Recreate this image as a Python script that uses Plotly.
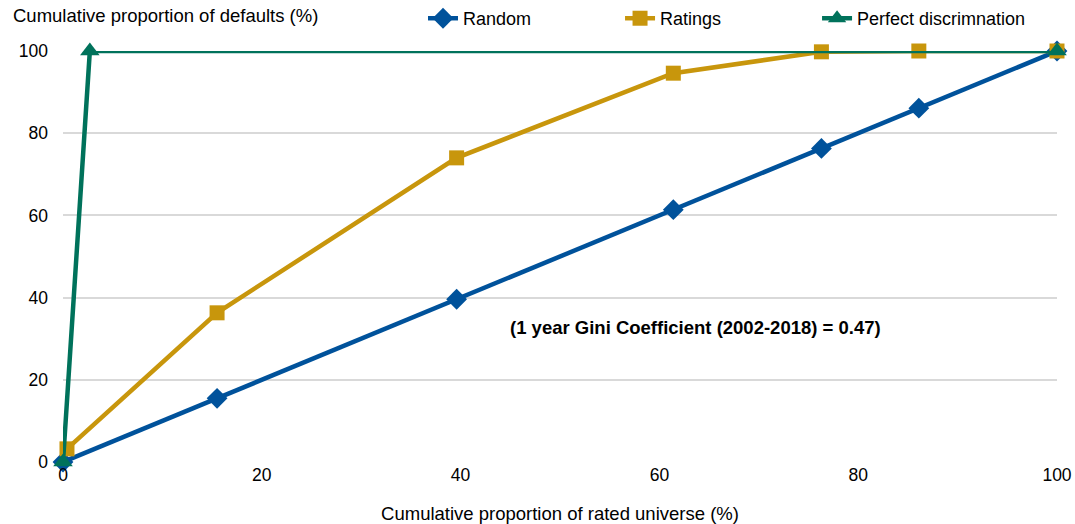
import plotly.graph_objects as go

# Cumulative accuracy profile data (percent)
random_x = [0, 15.5, 39.6, 61.4, 76.3, 86.1, 100]
random_y = [0, 15.5, 39.6, 61.4, 76.3, 86.1, 100]

ratings_x = [0.4, 15.5, 39.6, 61.4, 76.3, 86.1, 100]
ratings_y = [3.2, 36.3, 74.0, 94.6, 99.8, 100, 100]

perfect_x = [0, 2.7, 100]
perfect_y = [0, 100, 100]

y_ticks = [0, 20, 40, 60, 80, 100]
x_ticks = [0, 20, 40, 60, 80, 100]

BLUE = "#00529B"
GOLD = "#C8960C"
GREEN = "#00725B"
FONT = "Liberation Sans, Arial, sans-serif"

fig = go.Figure()
fig.add_trace(go.Scatter(
    x=random_x, y=random_y, name="Random", mode="lines+markers",
    line=dict(color=BLUE, width=4.5),
    marker=dict(symbol="diamond", size=16, color=BLUE),
    cliponaxis=False, legend="legend",
))
fig.add_trace(go.Scatter(
    x=ratings_x, y=ratings_y, name="Ratings", mode="lines+markers",
    line=dict(color=GOLD, width=4.5),
    marker=dict(symbol="square", size=15, color=GOLD),
    cliponaxis=False, legend="legend2",
))
fig.add_trace(go.Scatter(
    x=perfect_x, y=perfect_y, name="Perfect discrimnation", mode="lines+markers",
    line=dict(color=GREEN, width=4.5),
    marker=dict(symbol="triangle-up", size=17, color=GREEN),
    cliponaxis=False, legend="legend3",
))

fig.add_annotation(
    x=63.6, y=32.8, xref="x", yref="y",
    text="<b>(1 year Gini Coefficient (2002-2018) = 0.47)</b>",
    showarrow=False, font=dict(family=FONT, size=18.5, color="#000000"),
)
fig.add_annotation(
    x=0, y=1, xref="paper", yref="paper", xshift=-52, yshift=48,
    xanchor="left", yanchor="top",
    text="Cumulative proportion of defaults (%)",
    showarrow=False, font=dict(family=FONT, size=18.5, color="#000000"),
)


def legend_at(xpos):
    return dict(
        orientation="h", x=xpos, y=1.034, xanchor="left", yanchor="bottom",
        yref="paper", font=dict(family=FONT, size=18, color="#000000"),
        bgcolor="rgba(0,0,0,0)", borderwidth=0,
    )


fig.update_layout(
    template="none",
    width=1075, height=524,
    margin=dict(l=63, r=18, t=51, b=62, autoexpand=False),
    paper_bgcolor="white", plot_bgcolor="white",
    font=dict(family=FONT, size=18, color="#000000"),
    showlegend=True,
    legend=legend_at(0.3622),
    legend2=legend_at(0.5604),
    legend3=legend_at(0.7586),
    xaxis=dict(
        range=[0, 100], tickvals=x_ticks, showgrid=False, zeroline=False,
        showline=False, ticks="", automargin=False,
        title=dict(text="Cumulative proportion of rated universe (%)", standoff=24,
                   font=dict(family=FONT, size=18.5)),
        tickfont=dict(family=FONT, size=17.5),
    ),
    yaxis=dict(
        range=[0, 100], tickvals=y_ticks, showgrid=True, gridcolor="#D9D9D9",
        gridwidth=1.5, zeroline=False, showline=False, ticks="",
        automargin=False, ticklabelstandoff=14,
        tickfont=dict(family=FONT, size=17.5),
    ),
)

fig.write_html("out.html")
